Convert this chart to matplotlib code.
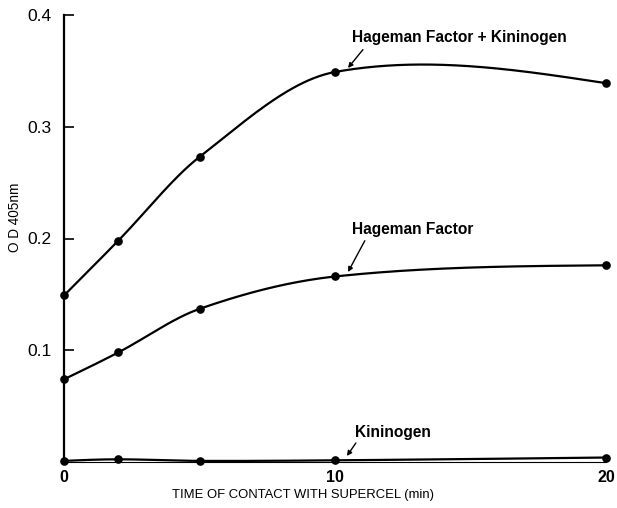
import numpy as np
import matplotlib
matplotlib.use("Agg")
import matplotlib.pyplot as plt

# ── data ──────────────────────────────────────────────────────────────────────
minutes = [0, 2, 5, 10, 20]
hf_kininogen = [0.149, 0.198, 0.273, 0.349, 0.339]
hageman_factor = [0.074, 0.098, 0.137, 0.166, 0.176]
kininogen = [0.001, 0.0024, 0.001, 0.0015, 0.004]

x_ticks = [0, 10, 20]
y_ticks = [0.1, 0.2, 0.3, 0.4]


def smooth_curve(x, y, n=300):
    """Catmull-Rom style cubic Hermite curve through the points."""
    x = np.asarray(x, float)
    y = np.asarray(y, float)
    s = np.diff(y) / np.diff(x)
    d = np.zeros_like(y)
    d[1:-1] = (y[2:] - y[:-2]) / (x[2:] - x[:-2])
    d[0] = (3 * s[0] - d[1]) / 2
    d[-1] = (3 * s[-1] - d[-2]) / 2
    xs = np.linspace(x[0], x[-1], n)
    idx = np.clip(np.searchsorted(x, xs) - 1, 0, len(x) - 2)
    h = x[idx + 1] - x[idx]
    t = (xs - x[idx]) / h
    h00 = 2 * t**3 - 3 * t**2 + 1
    h10 = t**3 - 2 * t**2 + t
    h01 = -2 * t**3 + 3 * t**2
    h11 = t**3 - t**2
    ys = h00 * y[idx] + h10 * h * d[idx] + h01 * y[idx + 1] + h11 * h * d[idx + 1]
    return xs, ys


plt.rcParams["font.family"] = ["Liberation Sans", "DejaVu Sans"]

fig = plt.figure(figsize=(6.17, 5.08), dpi=100)
ax = fig.add_axes([64 / 617, 46 / 508, 542 / 617, 447 / 508])

for series in (hf_kininogen, hageman_factor, kininogen):
    xs, ys = smooth_curve(minutes, series)
    ax.plot(xs, ys, color="black", linewidth=1.6, clip_on=False)
    ax.plot(minutes, series, "o", color="black", markersize=5.2, clip_on=False)

ax.set_xlim(0, 20)
ax.set_ylim(0, 0.4)
ax.set_xticks(x_ticks)
ax.set_xticklabels([str(v) for v in x_ticks], fontsize=11.5, fontweight="bold")
ax.set_yticks(y_ticks)
ax.set_yticklabels([f"{v:.1f}" for v in y_ticks], fontsize=12.5)
ax.tick_params(axis="x", length=0, pad=6)
ax.tick_params(axis="y", direction="in", length=7, width=1.2, pad=9)

for side in ("top", "right"):
    ax.spines[side].set_visible(False)
ax.spines["left"].set_linewidth(1.6)
ax.spines["bottom"].set_linewidth(0.8)

# ── labels & arrows ──────────────────────────────────────────────────────────
label_style = dict(fontsize=11.2, fontweight="bold", va="center", ha="left")
arrow_style = dict(arrowstyle="-|>", color="black", lw=1.0, mutation_scale=7,
                   shrinkA=0, shrinkB=0)

ax.text(10.63, 0.380, "Hageman Factor + Kininogen", **label_style)
ax.annotate("", xy=(10.48, 0.3526), xytext=(11.03, 0.369), arrowprops=arrow_style)

ax.text(10.63, 0.2085, "Hageman Factor", **label_style)
ax.annotate("", xy=(10.48, 0.170), xytext=(11.1, 0.198), arrowprops=arrow_style)

ax.text(10.74, 0.026, "Kininogen", **label_style)
ax.annotate("", xy=(10.44, 0.0054), xytext=(10.77, 0.017), arrowprops=arrow_style)

fig.text(303 / 617, 1 - 495 / 508, "TIME OF CONTACT WITH SUPERCEL (min)",
         fontsize=9.4, ha="center", va="center")
fig.text(15 / 617, 1 - 217 / 508, "O D 405nm", fontsize=9.8, rotation=90,
         ha="center", va="center")

fig.savefig("out.png", dpi=100)
plt.close(fig)
